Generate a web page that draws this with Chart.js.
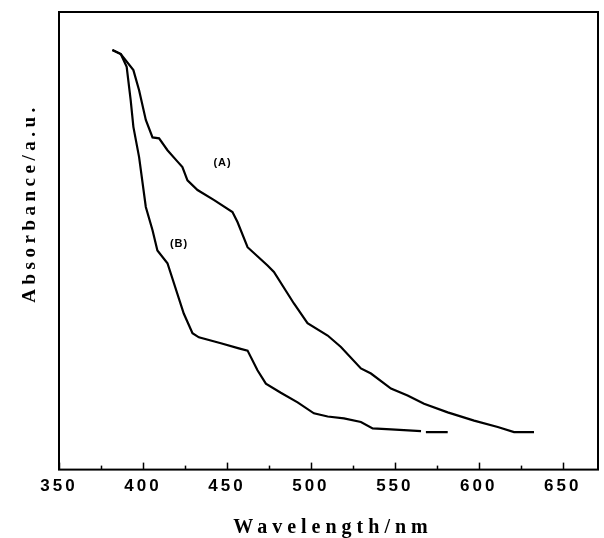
<!DOCTYPE html>
<html>
<head>
<meta charset="utf-8">
<script src="https://cdn.jsdelivr.net/npm/chart.js@4.4.1/dist/chart.umd.min.js"></script>
<style>
  html, body { margin: 0; padding: 0; background: #fff; }
  #wrap { width: 604px; height: 538px; }
</style>
</head>
<body>
<div id="wrap"><canvas id="uv-chart" width="604" height="538"></canvas></div>
<script>
// espectros UV-vis
const xTicks = [350, 400, 450, 500, 550, 600, 650];

const lambdaA = [381.8, 386.8, 394.3, 397.7, 401.7, 405.7, 409.6, 414.6, 420.6, 423.5, 426.5, 432.5,
  442.4, 453.3, 456.3, 462.3, 474.2, 478.0, 489.9, 498.0, 510.0, 517.9, 529.8, 535.8, 547.7,
  557.6, 567.4, 581.5, 597.2, 611.3, 621.0, 632.9];
const absA = [91.7, 90.8, 87.3, 82.9, 76.4, 72.6, 72.4, 69.8, 67.3, 66.1, 63.2, 61.1,
  58.9, 56.3, 54.1, 48.6, 44.6, 43.2, 36.3, 32.0, 29.3, 26.8, 22.1, 21.0, 17.7,
  16.2, 14.4, 12.5, 10.7, 9.3, 8.2, 8.2];

const lambdaB = [381.8, 386.8, 390.3, 392.7, 394.3, 397.7, 401.7, 405.7, 408.6, 414.6, 424.3, 429.5,
  433.3, 446.4, 457.1, 462.3, 468.2, 473.2, 482.1, 492.1, 501.8, 510.0, 519.7, 529.8, 536.8,
  547.7, 565.6, 567.0, 568.5, 581.5];
const absB = [91.7, 90.8, 88.0, 80.7, 74.9, 68.3, 57.4, 52.3, 47.9, 45.1, 34.1, 29.8,
  28.9, 27.6, 26.5, 26.0, 21.7, 18.8, 16.8, 14.7, 12.3, 11.6, 11.2, 10.4, 9.0,
  8.8, 8.4, null, 8.2, 8.2];

const curveLabels = [
  { text: '(A)', x: 447.4, y: 66.9 },
  { text: '(B)', x: 421.5, y: 49.4 }
];

function toPoints(xs, ys) {
  return xs.map((x, i) => ({ x: x, y: ys[i] }));
}

// marco, ticks hacia adentro y titulos
const framePlugin = {
  id: 'frame',
  beforeDraw(chart) {
    chart.ctx.letterSpacing = '3px';
  },
  afterDraw(chart) {
    const ctx = chart.ctx;
    const a = chart.chartArea;
    const sx = chart.scales.x;
    const sy = chart.scales.y;
    ctx.save();
    ctx.letterSpacing = '0px';
    ctx.strokeStyle = '#000';
    ctx.lineWidth = 2;
    ctx.strokeRect(a.left, a.top, a.right - a.left, a.bottom - a.top);

    ctx.lineWidth = 1.5;
    for (let v = 350; v <= 670; v += 25) {
      const px = Math.round(sx.getPixelForValue(v)) + 0.5;
      const len = (v % 50 === 0) ? 7 : 4;
      ctx.beginPath();
      ctx.moveTo(px, a.bottom);
      ctx.lineTo(px, a.bottom - len);
      ctx.stroke();
    }

    ctx.fillStyle = '#000';
    ctx.textAlign = 'center';
    ctx.textBaseline = 'middle';
    ctx.font = 'bold 11px "Liberation Sans", Arial, sans-serif';
    ctx.letterSpacing = '1px';
    curveLabels.forEach(l => {
      ctx.fillText(l.text, sx.getPixelForValue(l.x), sy.getPixelForValue(l.y));
    });

    ctx.font = 'bold 20px "Liberation Serif", "Times New Roman", serif';
    ctx.letterSpacing = '5px';
    ctx.fillText('Wavelength/nm', 333, 528);

    ctx.translate(30, 203);
    ctx.rotate(-Math.PI / 2);
    ctx.font = 'bold 19px "Liberation Serif", "Times New Roman", serif';
    ctx.letterSpacing = '4.5px';
    ctx.fillText('Absorbance/a.u.', 0, 0);
    ctx.restore();
  }
};

new Chart(document.getElementById('uv-chart'), {
  type: 'line',
  data: {
    datasets: [
      {
        label: 'A',
        data: toPoints(lambdaA, absA),
        borderColor: '#000',
        borderWidth: 2.2,
        pointRadius: 0,
        tension: 0,
        fill: false
      },
      {
        label: 'B',
        data: toPoints(lambdaB, absB),
        borderColor: '#000',
        borderWidth: 2.2,
        pointRadius: 0,
        tension: 0,
        fill: false,
        spanGaps: false
      }
    ]
  },
  options: {
    responsive: false,
    animation: false,
    layout: { padding: { left: 59, right: 6, top: 12, bottom: 34 } },
    plugins: {
      legend: { display: false },
      tooltip: { enabled: false }
    },
    scales: {
      x: {
        type: 'linear',
        min: 350,
        max: 671,
        afterBuildTicks(scale) {
          scale.ticks = xTicks.map(v => ({ value: v }));
        },
        grid: { display: false, drawTicks: false },
        border: { display: false },
        ticks: {
          color: '#000',
          padding: 7,
          maxRotation: 0,
          font: { family: '"Liberation Sans", Arial, sans-serif', size: 17, weight: 'bold' }
        }
      },
      y: {
        display: false,
        min: 0,
        max: 100
      }
    }
  },
  plugins: [framePlugin]
});
</script>
</body>
</html>
